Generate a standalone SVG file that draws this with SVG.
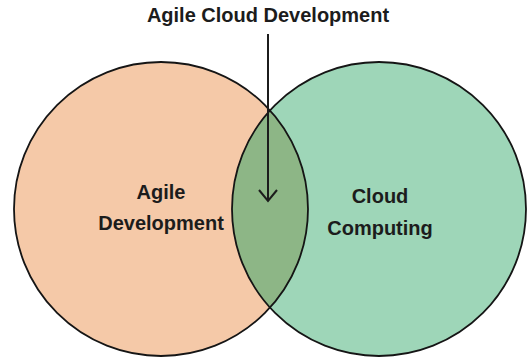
<svg xmlns="http://www.w3.org/2000/svg" width="528" height="361" viewBox="0 0 528 361">
  <style>
    .lbl { font-family: "Liberation Sans", Arial, sans-serif; font-weight: bold; font-size: 20px; fill: #1c1c1c; text-anchor: middle; }
    .ring { fill: none; stroke: #151515; stroke-width: 1.8; }
  </style>
  <defs>
    <!-- open V arrowhead, drawn along +x so orient="auto" follows the line -->
    <marker id="vhead" markerWidth="14" markerHeight="20" refX="12" refY="10" markerUnits="userSpaceOnUse" orient="auto" viewBox="0 0 14 20">
      <path d="M1 1 L12 10 L1 19" fill="none" stroke="#1c1c1c" stroke-width="2"/>
    </marker>
    <clipPath id="leftClip"><circle cx="161" cy="209" r="147"/></clipPath>
  </defs>
  <rect width="528" height="361" fill="#ffffff"/>

  <g id="agile-development">
    <circle cx="161" cy="209" r="147" fill="#f5c9a8"/>
  </g>
  <g id="cloud-computing">
    <circle cx="379" cy="209" r="147" fill="#9ed6b8"/>
  </g>
  <g id="agile-cloud-overlap">
    <circle cx="379" cy="209" r="147" fill="#8db686" clip-path="url(#leftClip)"/>
  </g>

  <g id="outlines">
    <circle class="ring" cx="161" cy="209" r="147"/>
    <circle class="ring" cx="379" cy="209" r="147"/>
  </g>

  <g id="labels">
    <text class="lbl" x="161" y="199">Agile</text>
    <text class="lbl" x="161" y="230">Development</text>
    <text class="lbl" x="380" y="203">Cloud</text>
    <text class="lbl" x="380" y="235">Computing</text>
    <text class="lbl" x="268" y="22">Agile Cloud Development</text>
  </g>

  <g id="connectors">
    <line x1="268" y1="34" x2="268" y2="201" stroke="#1c1c1c" stroke-width="2" marker-end="url(#vhead)"/>
  </g>
</svg>
